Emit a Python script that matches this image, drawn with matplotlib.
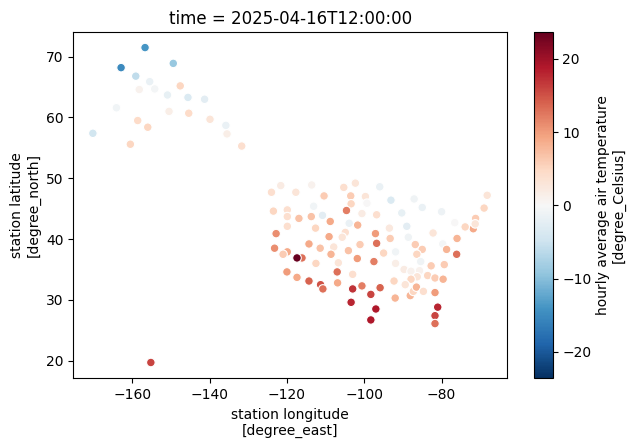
import matplotlib
matplotlib.use("Agg")
import matplotlib.pyplot as plt

# station longitude, latitude and hourly temperature
lon = [-156.7, -162.9, -149.4, -159.1, -155.5, -154.2, -158.2, -147.6, -150.9, -145.6, -141.3,
       -164.1, -150.5, -145.4, -158.6, -139.9, -156.0, -135.8, -135.5, -170.2, -160.5, -131.7,
       -155.2,
       -124.0, -121.6, -117.7, -113.6, -110.4, -105.3, -102.3, -103.5, -99.7, -96.0, -103.4,
       -99.3, -113.1, -123.5, -119.9, -119.9, -116.9, -113.7, -110.8, -108.8, -104.6, -100.6,
       -96.8, -103.9, -101.7, -119.9, -112.6, -122.8, -109.1, -104.9, -105.7, -97.1, -96.8,
       -114.3, -123.2, -119.9, -121.0, -111.4, -107.9, -101.1, -104.1, -108.6, -95.0, -116.1,
       -112.5, -106.7, -101.8, -97.5,
       -107.0, -103.0, -120.0, -117.4, -114.3, -111.3, -110.7, -106.9, -103.0, -100.6, -98.3,
       -95.9, -103.4, -97.0, -98.3,
       -93.1, -87.1, -85.0, -90.3, -80.0, -68.2, -69.0, -71.2, -71.8, -71.3, -73.9, -76.6,
       -82.2, -89.0, -93.5, -93.3, -88.6, -86.8, -85.0, -86.4, -79.7, -76.0, -78.7, -76.1,
       -91.9, -91.9, -85.4, -82.7, -79.3,
       -89.7, -87.9, -85.7, -86.3, -87.9, -83.6, -81.7, -79.6, -92.3, -89.4, -88.1, -87.3,
       -86.5, -84.7, -81.7, -92.0, -81.0, -81.7, -81.7,
       -117.4]
lat = [71.5, 68.2, 68.9, 66.8, 65.9, 64.7, 64.6, 65.2, 63.7, 63.3, 63.0,
       61.6, 61.0, 60.7, 59.5, 59.7, 58.4, 58.7, 57.3, 57.4, 55.6, 55.3,
       19.7,
       47.7, 48.8, 47.7, 48.9, 47.1, 48.5, 49.2, 47.1, 47.0, 48.6, 45.8,
       45.9, 45.4, 44.6, 44.8, 43.7, 43.4, 43.7, 43.9, 42.9, 44.7, 44.2,
       44.0, 42.6, 42.3, 42.1, 41.8, 40.9, 40.4, 41.1, 40.3, 40.9, 39.3,
       39.2, 38.5, 37.9, 37.5, 38.5, 38.7, 39.1, 38.1, 37.5, 37.7, 36.9,
       36.0, 36.1, 36.8, 36.3,
       34.6, 34.2, 34.6, 33.7, 33.1, 32.5, 31.8, 32.8, 31.8, 32.3, 30.9,
       32.0, 29.6, 28.5, 26.7,
       46.4, 46.6, 45.2, 44.3, 44.5, 47.2, 45.1, 43.4, 41.7, 42.5, 42.0, 42.7,
       41.0, 42.1, 41.8, 40.1, 40.3, 39.1, 38.3, 37.5, 39.2, 40.1, 38.3, 37.5,
       37.9, 36.0, 36.3, 35.6, 35.8,
       35.0, 34.7, 34.8, 33.8, 33.4, 34.0, 33.6, 33.4, 33.1, 32.5, 30.7, 31.4,
       32.1, 31.4, 31.2, 30.3, 28.8, 27.4, 26.1,
       36.9]
temp = [-14, -15, -9, -6, -1.5, -0.5, 1, 5, -2, -3.5, -2.5,
        -0.8, 1.5, 4.5, 4.5, 3, 5, -1.5, 1.5, -4.5, 5, 4,
        16,
        4, 2, 3, 1, 6, 4, 3, 6, 3, -1.5, 5,
        0, -0.8, 5, 4, 4, 7, 7, -2.5, 9, 12, 2,
        4, -1.5, 8, 4, 5, 11, 9, 4, 3, 10, 13,
        9, 11, 9, 6, 7, 3, 6, 7, 8, 5, 13,
        5, 3, 10, 12,
        13, 4, 10, 9, 14, 15, 13, 9, 17, 12, 16,
        14, 18, 19, 19,
        -3.5, -1, -1.5, -2, -1.2, 3, 5, 6, 9, 3, 5, 0,
        3, -2.5, 2.5, 6, -1, 6, 6, 5, -0.5, 8, 8, 13,
        -0.8, 1.5, -1, 6, 6,
        2, 1, 1, 3, 5, 5, 6, 8, 5, 3, 8, 5,
        8, 4, 10, 8, 18, 16, 13,
        23.6]

title = "time = 2025-04-16T12:00:00"
xlabel = "station longitude\n[degree_east]"
ylabel = "station latitude\n[degree_north]"
cbar_label = "hourly average air temperature\n[degree_Celsius]"
W, H = 636, 448

fig = plt.figure(figsize=(W / 100, H / 100), dpi=100)
ax = fig.add_axes([73.3 / W, 1 - 378.3 / H, (507.3 - 73.3) / W, (378.3 - 32.5) / H])
cax = fig.add_axes([534.3 / W, 1 - 378.3 / H, (552.7 - 534.3) / W, (378.3 - 32.5) / H])

sc = ax.scatter(lon, lat, c=temp, cmap="RdBu_r", vmin=-23.6, vmax=23.6,
                s=38, edgecolors="w", linewidths=0.8)
ax.set_xlim(-175.26, -63.0)
ax.set_ylim(17.1, 73.98)
ax.set_xticks([-160, -140, -120, -100, -80])
ax.set_yticks([20, 30, 40, 50, 60, 70])
ax.set_title(title)
ax.set_xlabel(xlabel)
ax.set_ylabel(ylabel)

cb = fig.colorbar(sc, cax=cax)
cb.set_ticks([-20, -10, 0, 10, 20])
cb.set_label(cbar_label, labelpad=3)

fig.savefig("out.png", dpi=100)
